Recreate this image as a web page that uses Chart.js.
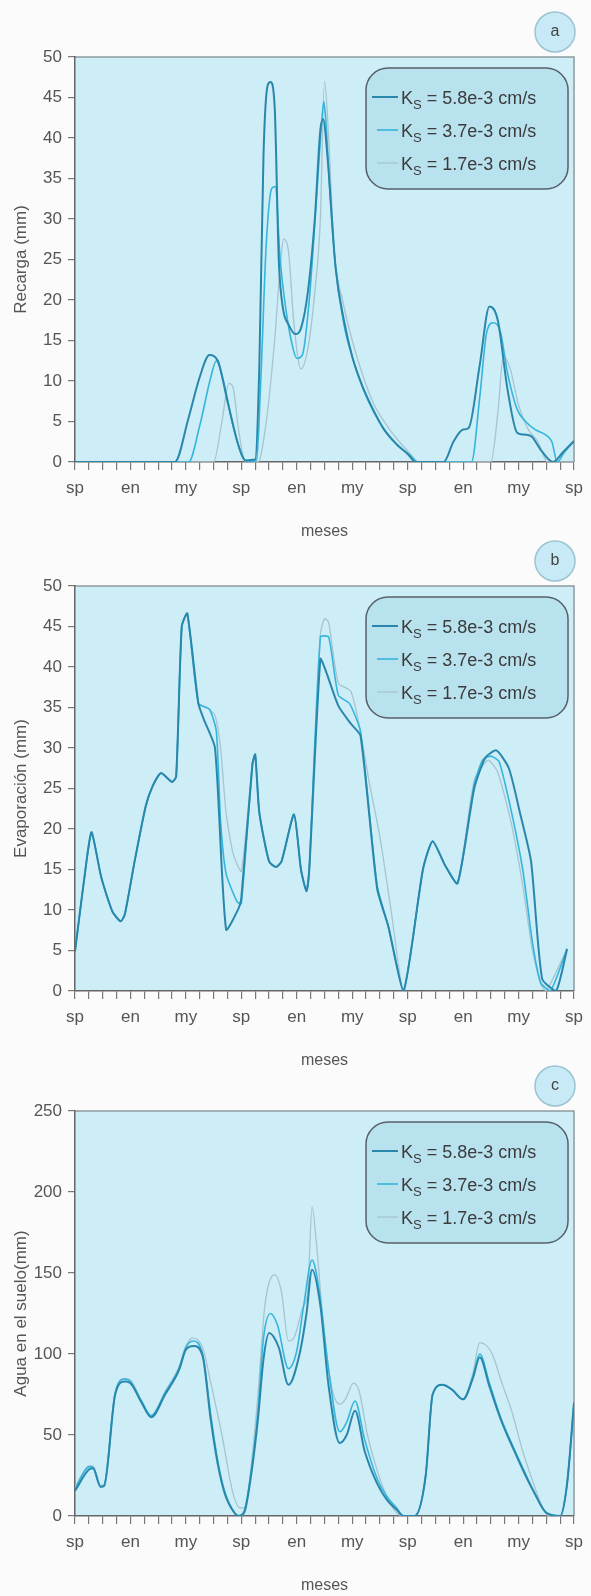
<!DOCTYPE html>
<html><head><meta charset="utf-8">
<script src="https://cdn.jsdelivr.net/npm/chart.js@4.4.1/dist/chart.umd.min.js"></script>
<style>
html,body{margin:0;padding:0;background:#fbfbfb;overflow:hidden;width:591px;height:1596px;}
.wrap{position:absolute;left:0;width:591px;height:542px;}
canvas{display:block;}
</style></head><body>
<div class="wrap" style="top:0px"><canvas id="ca" width="591" height="542"></canvas></div>
<div class="wrap" style="top:529px"><canvas id="cb" width="591" height="542"></canvas></div>
<div class="wrap" style="top:1054px"><canvas id="cc" width="591" height="542"></canvas></div>
<script>
// ---------- DATA ----------
const xTickLabels = ['sp','en','my','sp','en','my','sp','en','my','sp'];
const ksValues = ['5.8e-3','3.7e-3','1.7e-3'];
const panelLetters = ['a','b','c'];
const yTitles = ['Recarga (mm)','Evaporación (mm)','Agua en el suelo(mm)'];
const xTitle = 'meses';

// (a) Recarga (mm)
const recX58 = [0,7.2,8.2,9.0,9.7,10.3,11.0,11.8,12.3,13.0,13.3,13.6,13.9,14.1,14.4,14.7,15.0,15.4,15.9,16.3,16.8,17.3,17.7,17.9,18.2,18.8,19.4,20.0,20.7,21.5,22.3,23.2,24.0,24.6,26.6,27.3,28.0,28.4,29.2,29.9,30.5,31.2,31.9,32.3,32.9,33.6,34.5,35.2,36];
const recY58 = [0,0,5.5,10.5,13.2,12.5,7.5,2,0.2,0.3,12,38,46.5,46.9,44,25,19,17,15.8,16.5,21,30,41,42.3,38,24,17.5,13,9.5,6.5,4,2.2,1,0,0,2.5,4,4.2,12,19.2,17.5,9,3.6,3.4,3.2,1.5,0,1.2,2.6];
const recX37 = [0,8.2,9.0,9.8,10.2,10.7,11.4,12.0,12.5,13.1,13.4,13.8,14.2,14.45,14.8,15.2,15.6,16.0,16.4,16.9,17.4,17.8,17.95,18.1,18.4,18.8,19.4,20.0,20.8,21.6,22.4,23.3,24.2,24.7,28.6,29.2,29.7,30.2,30.7,31.2,31.9,32.5,33.2,34.0,34.4,34.8,35.3,36];
const recY37 = [0,0,4.5,10.5,12.5,10,4.5,1,0,0.3,10,27,33.8,34,25,19,15,12.8,13.2,20,32,42,44.5,42,33,24,17,13,9,6,3.8,2,0.8,0,0,8,16,17.2,16,11,6.5,5,4,3.3,2.5,0,1.2,2.6];
const recX17 = [0,10.0,10.6,11.1,11.4,11.8,12.3,13.2,13.8,14.4,14.8,15.05,15.4,15.8,16.3,16.8,17.3,17.7,18.0,18.3,18.7,19.3,20.0,20.8,21.6,22.5,23.4,24.2,24.8,30.0,30.5,30.9,31.4,32.0,32.7,33.4,34.1,36];
const recY17 = [0,0,5,9.7,9.2,4,0,0,5,15,24,27.5,26,17,11.5,14,21,30,47,40,26,20,15,10.5,7,4.5,2.5,1,0,0,6,13,11.5,7,4,2.5,0,0];

// (b) Evaporación (mm)
const evaX58 = [0,0.86,1.2,1.9,2.7,3.3,3.6,4.3,5.1,5.6,6.2,7.0,7.3,7.7,8.1,8.9,9.3,10.1,10.9,11.8,12.0,12.8,13.0,13.3,14.0,14.5,14.9,15.8,16.3,16.7,16.9,17.7,18.1,19.0,19.9,20.6,21.8,22.6,23.7,25.1,25.8,26.7,27.6,28.8,29.6,30.4,31.3,32.1,32.9,33.7,34.7,35.5];
const evaY58 = [4.9,16.4,19.6,14,9.8,8.6,9.5,16,22.8,25.3,26.9,25.8,26.5,45,46.6,35.5,33.5,30,7.6,10.2,11.5,28,29.2,22,16,15.3,16,21.8,15,12.3,15,41,39.5,35.2,33,31.5,12.6,8,0,15,18.5,15.5,13.3,25,28.8,29.7,27.5,22,16,1.5,0,5.2];
const evaX37 = [0,0.86,1.2,1.9,2.7,3.3,3.6,4.3,5.1,5.6,6.2,7.0,7.3,7.7,8.1,8.9,9.7,10.2,10.5,10.9,11.7,12.0,12.8,13.0,13.3,14.0,14.5,14.9,15.8,16.3,16.7,16.9,17.7,18.3,19.0,19.8,20.6,21.8,22.6,23.7,25.1,25.8,26.7,27.6,28.8,29.4,30.0,30.6,31.5,32.3,33.0,33.6,34.3,35.5];
const evaY37 = [4.9,16.4,19.6,14,9.8,8.6,9.5,16,22.8,25.3,26.9,25.8,26.5,45,46.6,35.5,34.8,32,21,14.5,11,10.8,28,29.2,22,16,15.3,16,21.8,15,12.3,15,43.7,43.7,36.5,35.5,32,13,8,0,15,18.5,15.5,13.3,25.5,28.5,29,28.3,22,15,6,1,0,5.2];
const evaX17 = [0,0.86,1.2,1.9,2.7,3.3,3.6,4.3,5.1,5.6,6.2,7.0,7.3,7.7,8.1,8.9,9.5,10.1,10.5,10.9,11.4,12.0,12.8,13.0,13.3,14.0,14.5,14.9,15.8,16.3,16.7,16.9,17.7,18.0,18.3,19.0,19.9,20.6,21.2,22.0,22.8,23.7,25.1,25.8,26.7,27.6,28.8,29.8,30.5,31.5,32.3,33.0,33.6,34.0,35.5];
const evaY17 = [4.9,16.4,19.6,14,9.8,8.6,9.5,16,22.8,25.3,26.9,25.8,26.5,45,46.6,35.5,35,34,30,22,17,14.8,28,29.2,22,16,15.3,16,21.8,15,12.3,15,44,46,45.5,38,37,32,26,19,10,0,15,18.5,15.5,13.3,26,28.5,27,20.5,13,5,0.8,0,5.2];

// (c) Agua en el suelo (mm)
const sueX58 = [0,1.05,1.3,1.85,2.1,2.9,3.6,4.0,4.8,5.5,6.5,7.5,8.0,8.55,9.2,9.8,10.3,10.8,11.5,11.8,12.2,12.7,13.2,13.6,14.0,14.7,15.4,16.2,16.7,17.1,17.7,18.3,19.1,19.6,20.2,20.9,21.8,22.5,23.2,23.7,24.5,25.3,25.8,26.5,27.2,28.0,28.7,29.2,29.9,30.7,31.7,32.5,33.1,34.0,35.0,35.5,36];
const sueY58 = [15.6,29,29.5,18,18.5,75,83,82,70,61,75,90,102.7,105,99,59,32,14,2,0,2,25,60,97,113,104,81,100,125,152,130,80,45,50,65,40,20,10,4,0,0,25,75,81,78,72,85,98,80,60,40,25,15,2,0,20,70];
const sueX37 = [0,1.05,1.3,1.85,2.1,2.9,3.6,4.0,4.8,5.5,6.5,7.5,8.0,8.5,9.2,9.8,10.3,10.8,11.5,11.8,12.2,12.7,13.2,13.6,14.1,14.6,15.4,16.0,16.5,17.1,17.6,18.3,19.1,19.6,20.2,20.9,21.8,22.5,23.2,23.7,24.5,25.3,25.8,26.5,27.2,28.0,28.7,29.2,29.9,30.7,31.7,32.5,33.1,34.0,35.0,35.5,36];
const sueY37 = [17,30.5,30,18,19,76,84.5,83,71,62,76,91,104,108,100,62,34,15,2,0,3,27,65,110,125,118,91,102,130,158,140,90,52,58,71,47,23,12,5,0,0,25,75,81,78,72,86,100,82,61,41,26,15,2,0,20,70];
const sueX17 = [0,1.05,1.3,1.85,2.1,2.9,3.6,4.0,4.8,5.5,6.5,7.5,8.0,8.5,9.2,9.8,10.6,11.4,11.9,12.3,12.7,13.2,13.7,14.4,14.9,15.4,15.8,16.4,16.8,17.1,17.4,17.9,18.5,19.1,19.5,20.1,20.5,21.1,21.8,22.6,23.2,23.7,24.5,25.3,25.8,26.5,27.2,28.0,28.7,29.2,29.7,30.1,30.8,31.5,32.3,33.0,33.6,34.2,35.0,35.5,36];
const sueY17 = [18,31,31,19,19,76,85,84,71,62,77,92,105,110,104,82,50,14,5,5,30,75,130,149,138,108,110,128,140,191,170,120,80,69,72,82,77,50,28,10,2,0,0,25,75,81,78,72,88,107,105,100,82,65,40,22,8,0,0,20,70];

// ---------- RENDERING ----------
const FONT = "'Liberation Sans', Arial, Helvetica, sans-serif";
const seriesStyle = [
  {color:'#2a87ac', width:2.0},
  {color:'#36b5dc', width:1.6},
  {color:'#a7c4cf', width:1.3}
];

function roundRectPath(ctx, x, y, w, h, r){
  ctx.beginPath();
  ctx.moveTo(x+r, y);
  ctx.arcTo(x+w, y, x+w, y+h, r);
  ctx.arcTo(x+w, y+h, x, y+h, r);
  ctx.arcTo(x, y+h, x, y, r);
  ctx.arcTo(x, y, x+w, y, r);
  ctx.closePath();
}

const panelDeco = {
  id: 'panelDeco',
  beforeDraw(chart){
    const {ctx, chartArea:a} = chart;
    ctx.save();
    ctx.fillStyle = '#cdedf7';
    ctx.fillRect(a.left, a.top, a.right-a.left, a.bottom-a.top);
    ctx.strokeStyle = '#8d999e';
    ctx.lineWidth = 1.5;
    ctx.beginPath();
    ctx.moveTo(a.left, a.top); ctx.lineTo(a.right, a.top); ctx.lineTo(a.right, a.bottom);
    ctx.stroke();
    ctx.restore();
  },
  afterDatasetsDraw(chart, args, opts){
    const {ctx, chartArea:a} = chart;
    ctx.save();
    // legend box
    const bx = a.right - 208, by = a.top + 11, bw = 202, bh = 121;
    roundRectPath(ctx, bx, by, bw, bh, 22);
    ctx.fillStyle = '#b9e2ef';
    ctx.fill();
    ctx.strokeStyle = '#56616a';
    ctx.lineWidth = 1.5;
    ctx.stroke();
    chart.data.datasets.forEach((ds, i) => {
      const y = a.top + 40 + i*33;
      ctx.strokeStyle = ds.borderColor;
      ctx.lineWidth = ds.borderWidth;
      ctx.beginPath();
      ctx.moveTo(bx + (i===0 ? 6 : 11), y);
      ctx.lineTo(bx + 32, y);
      ctx.stroke();
      ctx.fillStyle = '#3b3b3b';
      ctx.textBaseline = 'alphabetic';
      ctx.textAlign = 'left';
      let x = bx + 35;
      ctx.font = '18px ' + FONT;
      ctx.fillText('K', x, y + 6.5);
      x += ctx.measureText('K').width;
      ctx.font = '13px ' + FONT;
      ctx.fillText('S', x, y + 12);
      x += ctx.measureText('S').width;
      ctx.font = '18px ' + FONT;
      ctx.fillText(ds.label.slice(3), x, y + 6.5);
    });
    // panel letter circle
    const cx = a.right - 19, cy = a.top - 25;
    ctx.beginPath();
    ctx.arc(cx, cy, 20, 0, Math.PI*2);
    ctx.fillStyle = '#c7eaf6';
    ctx.fill();
    ctx.strokeStyle = '#9cc3d1';
    ctx.lineWidth = 1.5;
    ctx.stroke();
    ctx.fillStyle = '#444';
    ctx.font = '16px ' + FONT;
    ctx.textAlign = 'center';
    ctx.textBaseline = 'middle';
    ctx.fillText(opts.letter, cx, cy);
    ctx.restore();
  }
};

function makePanel(id, xsList, ysList, yMax, yStep, yTitle, letter, smooth){
  const datasets = xsList.map((xs, i) => ({
    label: 'K_S = ' + ksValues[i] + ' cm/s',
    data: xs.map((x, j) => ({x: x, y: ysList[i][j]})),
    borderColor: seriesStyle[i].color,
    borderWidth: seriesStyle[i].width,
    pointRadius: 0,
    fill: false,
    cubicInterpolationMode: smooth ? 'monotone' : 'default',
    tension: smooth ? 0.4 : 0.2
  }));
  return new Chart(document.getElementById(id), {
    type: 'line',
    data: {datasets},
    plugins: [panelDeco],
    options: {
      responsive: false,
      animation: false,
      layout: {padding: {left: 0, top: 57, right: 10, bottom: 1}},
      plugins: {legend: {display: false}, tooltip: {enabled: false}, panelDeco: {letter}},
      scales: {
        x: {
          type: 'linear', min: 0, max: 36,
          afterFit: s => { s.height = 79; },
          ticks: {
            stepSize: 1, autoSkip: false, maxRotation: 0, minRotation: 0, padding: 8,
            color: '#555', font: {family: FONT, size: 17},
            callback: v => (Math.round(v) % 4 === 0 ? xTickLabels[Math.round(v)/4] : '')
          },
          grid: {drawOnChartArea: false, drawTicks: true, tickLength: 8, color: '#777', lineWidth: 1.2},
          border: {display: true, color: '#666', width: 1.5},
          title: {display: true, text: xTitle, color: '#555', font: {family: FONT, size: 16}, padding: {top: 0, bottom: 0}}
        },
        y: {
          min: 0, max: yMax,
          afterFit: s => { s.width = 75; },
          ticks: {stepSize: yStep, padding: 6, color: '#555', font: {family: FONT, size: 17}},
          grid: {drawOnChartArea: false, drawTicks: true, tickLength: 7, color: '#777', lineWidth: 1.2},
          border: {display: true, color: '#666', width: 1.5},
          title: {display: true, text: yTitle, color: '#555', font: {family: FONT, size: 17}, padding: {top: 11, bottom: 0}}
        }
      }
    }
  });
}

makePanel('ca', [recX58, recX37, recX17], [recY58, recY37, recY17], 50, 5, yTitles[0], panelLetters[0], true);
makePanel('cb', [evaX58, evaX37, evaX17], [evaY58, evaY37, evaY17], 50, 5, yTitles[1], panelLetters[1], false);
makePanel('cc', [sueX58, sueX37, sueX17], [sueY58, sueY37, sueY17], 250, 50, yTitles[2], panelLetters[2], true);
</script>
</body></html>
